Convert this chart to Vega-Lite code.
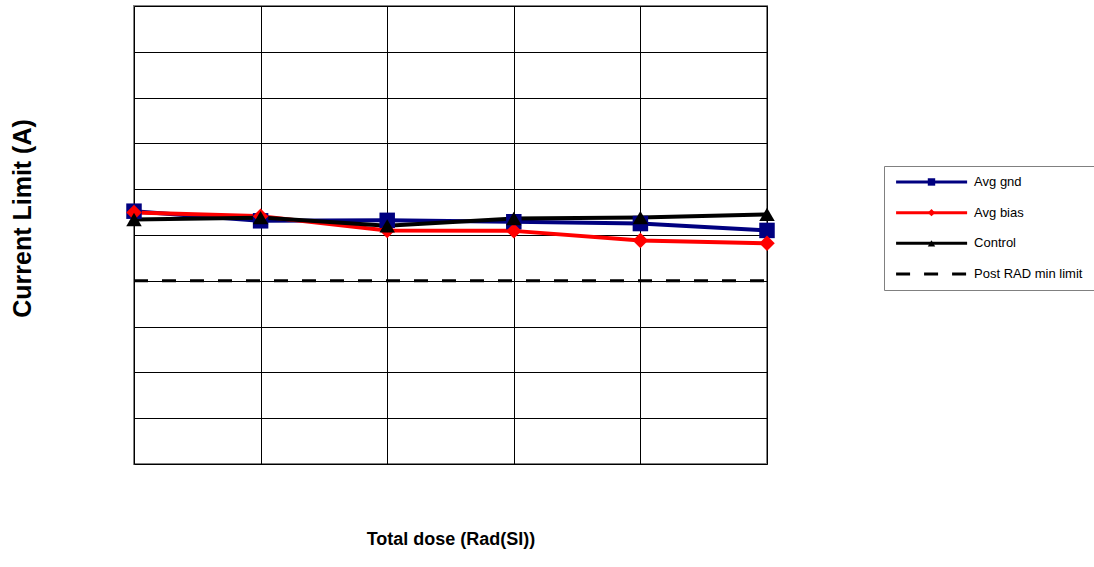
{
  "$schema": "https://vega.github.io/schema/vega-lite/v6.json",
  "padding": {"left": 9, "top": 5, "right": 0, "bottom": 0},
  "config": {"font": "Liberation Sans", "view": {"stroke": null}},
  "spacing": 107,
  "hconcat": [
    {
      "width": 633,
      "height": 458,
      "view": {"stroke": "#808080", "strokeWidth": 2},
      "data": {"values": [
        {"dose": 0, "series": "Avg gnd", "value": 5.52},
        {"dose": 1, "series": "Avg gnd", "value": 5.31},
        {"dose": 2, "series": "Avg gnd", "value": 5.32},
        {"dose": 3, "series": "Avg gnd", "value": 5.29},
        {"dose": 4, "series": "Avg gnd", "value": 5.25},
        {"dose": 5, "series": "Avg gnd", "value": 5.10},
        {"dose": 0, "series": "Avg bias", "value": 5.49},
        {"dose": 1, "series": "Avg bias", "value": 5.41},
        {"dose": 2, "series": "Avg bias", "value": 5.10},
        {"dose": 3, "series": "Avg bias", "value": 5.09},
        {"dose": 4, "series": "Avg bias", "value": 4.88},
        {"dose": 5, "series": "Avg bias", "value": 4.82},
        {"dose": 0, "series": "Control", "value": 5.34},
        {"dose": 1, "series": "Control", "value": 5.38},
        {"dose": 2, "series": "Control", "value": 5.20},
        {"dose": 3, "series": "Control", "value": 5.36},
        {"dose": 4, "series": "Control", "value": 5.38},
        {"dose": 5, "series": "Control", "value": 5.45},
        {"dose": 0, "series": "Post RAD min limit", "value": 4.0},
        {"dose": 5, "series": "Post RAD min limit", "value": 4.0}
      ]},
      "encoding": {
        "x": {
          "field": "dose", "type": "quantitative",
          "scale": {"domain": [0, 5], "nice": false, "zero": false},
          "axis": {
            "values": [0, 1, 2, 3, 4, 5], "grid": true, "gridColor": "#000000", "gridWidth": 1, "gridOpacity": 1,
            "labels": false, "ticks": false, "domain": false,
            "title": "Total dose (Rad(SI))", "titleFontSize": 18, "titleFontWeight": "bold", "titleColor": "#000000",
            "titlePadding": 66
          }
        },
        "y": {
          "field": "value", "type": "quantitative",
          "scale": {"domain": [0, 10], "nice": false, "zero": false},
          "axis": {
            "values": [0, 1, 2, 3, 4, 5, 6, 7, 8, 9, 10], "grid": true, "gridColor": "#000000", "gridWidth": 1, "gridOpacity": 1,
            "labels": false, "ticks": false, "domain": false,
            "title": "Current Limit (A)", "titleFontSize": 25, "titleFontWeight": "bold", "titleColor": "#000000",
            "titlePadding": 99, "titleY": 212
          }
        },
        "color": {
          "field": "series", "type": "nominal", "legend": null,
          "scale": {"domain": ["Avg gnd", "Avg bias", "Control", "Post RAD min limit"], "range": ["#000080", "#FF0000", "#000000", "#000000"]}
        }
      },
      "layer": [
        {
          "transform": [{"filter": "datum.series === 'Post RAD min limit'"}],
          "mark": {"type": "line", "strokeWidth": 3, "strokeDash": [14, 14]}
        },
        {
          "transform": [{"filter": "datum.series !== 'Post RAD min limit'"}],
          "mark": {"type": "line", "strokeWidth": 4}
        },
        {
          "transform": [{"filter": "datum.series !== 'Post RAD min limit'"}],
          "mark": {"type": "point", "filled": true, "opacity": 1, "size": 240},
          "encoding": {
            "shape": {
              "field": "series", "type": "nominal", "legend": null,
              "scale": {"domain": ["Avg gnd", "Avg bias", "Control"], "range": ["square", "diamond", "triangle-up"]}
            }
          }
        }
      ]
    },
    {
      "spacing": 11,
      "vconcat": [
        {
          "width": 212,
          "height": 148,
          "data": {"values": [{"series": "Avg gnd"}]},
          "mark": {"type": "point", "opacity": 0},
          "encoding": {}
        },
        {
          "width": 212,
          "height": 124,
          "view": {"stroke": "#808080", "strokeWidth": 1},
          "data": {"values": [
            {"series": "Avg gnd"},
            {"series": "Avg bias"},
            {"series": "Control"},
            {"series": "Post RAD min limit"}
          ]},
          "encoding": {
            "y": {
              "field": "series", "type": "nominal", "axis": null,
              "scale": {"type": "point", "domain": ["Avg gnd", "Avg bias", "Control", "Post RAD min limit"], "padding": 0.52}
            },
            "color": {
              "field": "series", "type": "nominal", "legend": null,
              "scale": {"domain": ["Avg gnd", "Avg bias", "Control", "Post RAD min limit"], "range": ["#000080", "#FF0000", "#000000", "#000000"]}
            }
          },
          "layer": [
            {
              "transform": [{"filter": "datum.series !== 'Post RAD min limit'"}],
              "mark": {"type": "rule", "strokeWidth": 3},
              "encoding": {
                "x": {"datum": 0.057, "type": "quantitative", "scale": {"domain": [0, 1], "nice": false}, "axis": null},
                "x2": {"datum": 0.392}
              }
            },
            {
              "transform": [{"filter": "datum.series === 'Post RAD min limit'"}],
              "mark": {"type": "rule", "strokeWidth": 3, "strokeDash": [14, 14]},
              "encoding": {
                "x": {"datum": 0.057, "type": "quantitative", "scale": {"domain": [0, 1], "nice": false}, "axis": null},
                "x2": {"datum": 0.392}
              }
            },
            {
              "transform": [{"filter": "datum.series !== 'Post RAD min limit'"}],
              "mark": {"type": "point", "filled": true, "opacity": 1, "size": 55},
              "encoding": {
                "x": {"datum": 0.224, "type": "quantitative", "scale": {"domain": [0, 1], "nice": false}, "axis": null},
                "shape": {
                  "field": "series", "type": "nominal", "legend": null,
                  "scale": {"domain": ["Avg gnd", "Avg bias", "Control"], "range": ["square", "diamond", "triangle-up"]}
                }
              }
            },
            {
              "mark": {"type": "text", "align": "left", "baseline": "middle", "fontSize": 13, "color": "#000000"},
              "encoding": {
                "x": {"datum": 0.425, "type": "quantitative", "scale": {"domain": [0, 1], "nice": false}, "axis": null},
                "text": {"field": "series"},
                "color": {"value": "#000000"}
              }
            }
          ]
        }
      ]
    }
  ]
}
